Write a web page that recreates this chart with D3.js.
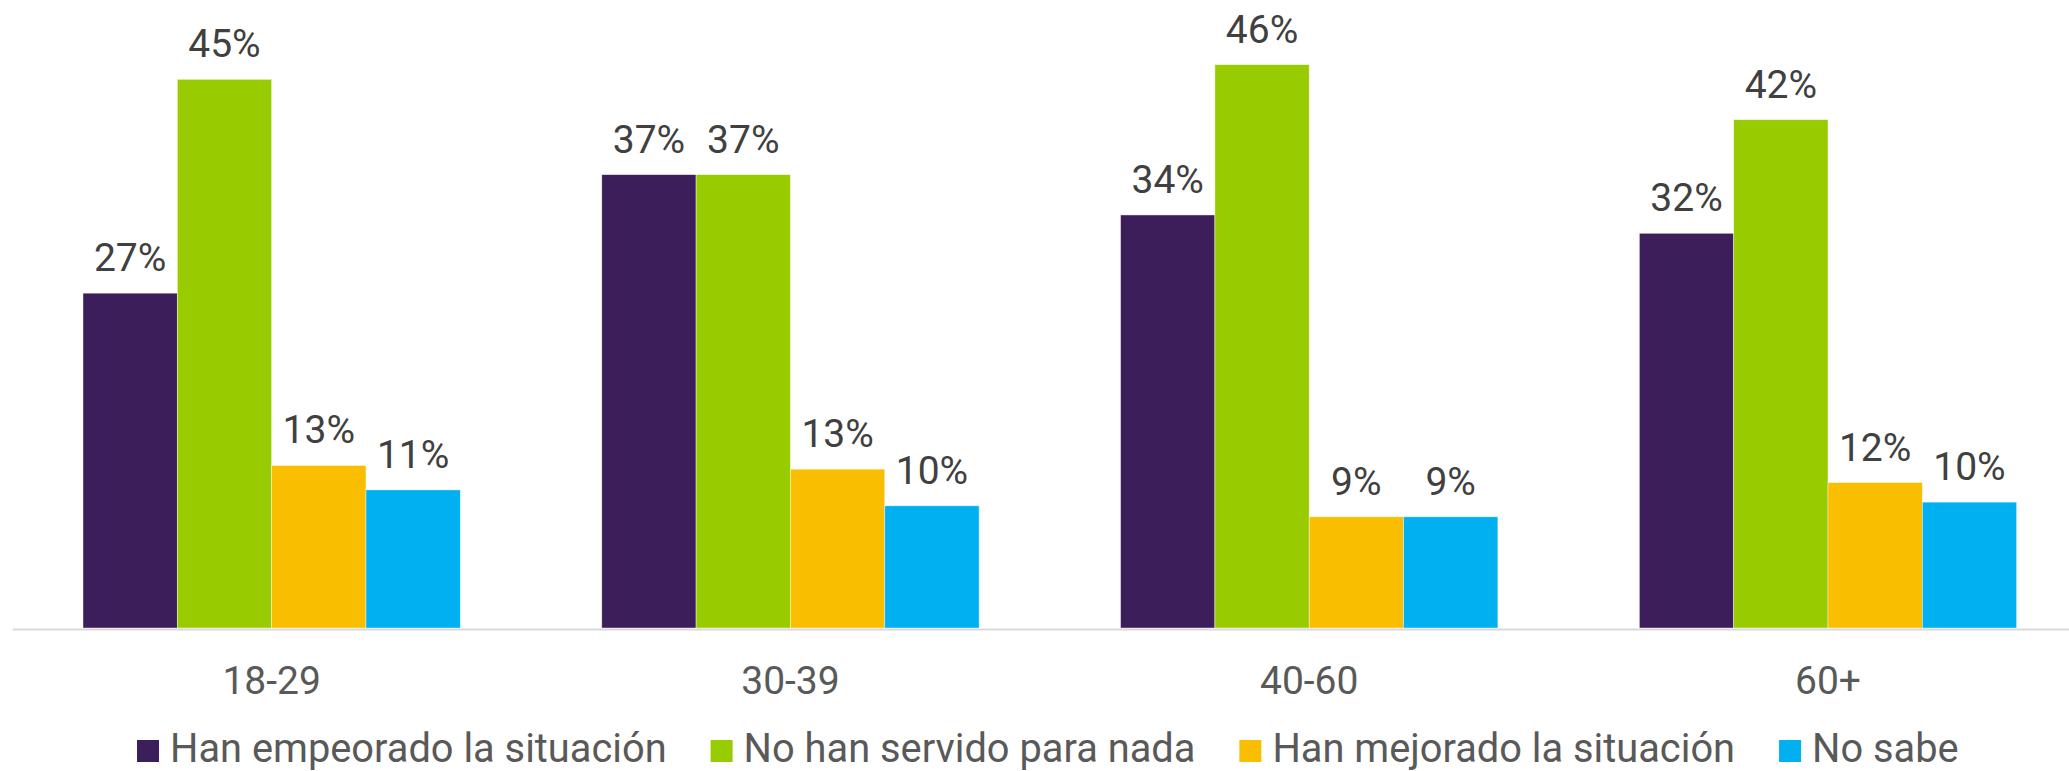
<!DOCTYPE html>
<html>
<head>
<meta charset="utf-8">
<script src="https://cdn.jsdelivr.net/npm/d3@7"></script>
<style>
  body { margin: 0; background: #fff; }
  svg { display: block; font-family: Roboto, "Noto Sans", sans-serif; }
</style>
</head>
<body>
<svg id="chart" width="2069" height="771"></svg>
<script>
// age groups
var categories = ["18-29", "30-39", "40-60", "60+"];
// series names, in legend order
var series = ["Han empeorado la situación", "No han servido para nada", "Han mejorado la situación", "No sabe"];
// values in % (labels are rounded)
var empeorado = [27.4, 37.1, 33.8, 32.3];
var noServido = [44.9, 37.1, 46.1, 41.6];
var mejorado  = [13.3, 13.0, 9.1, 11.9];
var noSabe    = [11.3, 10.0, 9.1, 10.3];

var colors = ["#3C1F5A", "#99CC00", "#F9BE00", "#00B0F0"];

var values = [empeorado, noServido, mejorado, noSabe];
var data = categories.map(function(c, i) {
  return { cat: c, vals: series.map(function(s, j) { return { key: s, value: values[j][i] }; }) };
});

var svg = d3.select("#chart");

var baseY = 628;

// plot area runs a bit past the right edge, like the original
var x0 = d3.scaleBand()
    .domain(categories)
    .range([12.25, 2087.4])
    .paddingInner(0.2727)
    .paddingOuter(0.13636);

var x1 = d3.scaleBand()
    .domain(series)
    .range([0, x0.bandwidth()]);

var y = d3.scaleLinear()
    .domain([0, 50])
    .range([baseY, baseY - 50 * 12.22]);

var color = d3.scaleOrdinal().domain(series).range(colors);

var groups = svg.append("g")
  .selectAll("g")
  .data(data)
  .join("g")
    .attr("transform", function(d) { return "translate(" + x0(d.cat) + ",0)"; });

groups.selectAll("rect")
  .data(function(d) { return d.vals; })
  .join("rect")
    .attr("x", function(d) { return x1(d.key); })
    .attr("y", function(d) { return y(d.value); })
    .attr("width", x1.bandwidth())
    .attr("height", function(d) { return y(0) - y(d.value); })
    .attr("fill", function(d) { return color(d.key); })
    .attr("stroke", "#fff")
    .attr("stroke-opacity", 0.6)
    .attr("stroke-width", 0.7);

// value labels
groups.selectAll("text")
  .data(function(d) { return d.vals; })
  .join("text")
    .attr("x", function(d) { return x1(d.key) + x1.bandwidth() / 2; })
    .attr("y", function(d) { return y(d.value) - 22; })
    .attr("text-anchor", "middle")
    .attr("font-size", 39)
    .attr("fill", "#404040")
    .text(function(d) { return Math.round(d.value) + "%"; });

// category axis
var axis = svg.append("g")
    .attr("transform", "translate(0," + (baseY + 1) + ")")
    .call(d3.axisBottom(x0).tickSize(0).tickSizeOuter(0).tickPadding(37));

axis.select(".domain")
    .attr("stroke", "#D9D9D9")
    .attr("stroke-width", 2);

axis.selectAll(".tick text")
    .attr("font-family", "Roboto, sans-serif")
    .attr("font-size", 39)
    .attr("fill", "#595959");

// legend
var legend = svg.append("g").attr("transform", "translate(137,0)");
var lx = 0;
series.forEach(function(s, i) {
  var item = legend.append("g").attr("transform", "translate(" + lx + ",0)");
  item.append("rect")
    .attr("x", 0)
    .attr("y", 740)
    .attr("width", 22)
    .attr("height", 22)
    .attr("fill", colors[i]);
  var t = item.append("text")
    .attr("x", 33)
    .attr("y", 762)
    .attr("font-size", 39.8)
    .attr("fill", "#595959")
    .text(s);
  lx += 33 + t.node().getComputedTextLength() + 44;
});
</script>
</body>
</html>
